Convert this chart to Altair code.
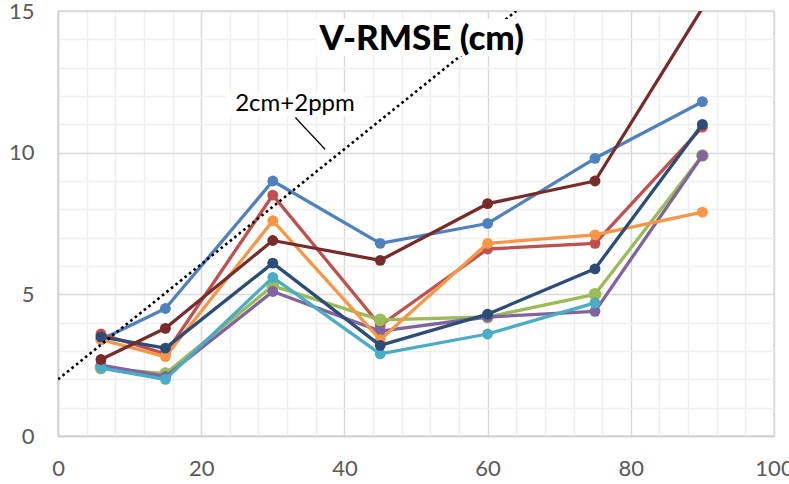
import altair as alt
import pandas as pd

# Baseline length (km) at which each vertical RMSE was evaluated
distance_km = [6, 15, 30, 45, 60, 75, 90]

series_names = ["Series 1", "Series 2", "Series 3", "Series 4",
                "Series 5", "Series 6", "Series 7", "Series 8"]

# Vertical RMSE values in cm, one list per series (None = not measured)
rmse_s1 = [3.4, 4.5, 9.0, 6.8, 7.5, 9.8, 11.8]
rmse_s2 = [3.6, 2.9, 8.5, 3.9, 6.6, 6.8, 10.9]
rmse_s3 = [2.4, 2.2, 5.3, 4.1, 4.2, 5.0, 9.9]
rmse_s4 = [2.5, 2.1, 5.1, 3.7, 4.2, 4.4, 9.9]
rmse_s5 = [2.4, 2.0, 5.6, 2.9, 3.6, 4.7, None]
rmse_s6 = [3.4, 2.8, 7.6, 3.4, 6.8, 7.1, 7.9]
rmse_s7 = [3.5, 3.1, 6.1, 3.2, 4.3, 5.9, 11.0]
rmse_s8 = [2.7, 3.8, 6.9, 6.2, 8.2, 9.0, 15.1]
series_values = [rmse_s1, rmse_s2, rmse_s3, rmse_s4,
                 rmse_s5, rmse_s6, rmse_s7, rmse_s8]

# Specification line "2cm+2ppm"
spec_x = [0, 64]
spec_y = [2.0, 15.0]
spec_label = "2cm+2ppm"
chart_title = "V-RMSE (cm)"

# Styling
series_colors = ["#4F81BD", "#C0504D", "#9BBB59", "#8064A2",
                 "#4BACC6", "#F79646", "#2C4D75", "#772C2A"]
marker_sizes = [118, 118, 160, 118, 118, 118, 118, 118]
FONT = "Lato"
X_MAX, Y_MAX = 100, 15

x_scale = alt.Scale(domain=[0, X_MAX], nice=False, zero=True)
y_scale = alt.Scale(domain=[0, Y_MAX], nice=False, zero=True)

x_axis = alt.Axis(
    values=list(range(0, X_MAX + 1, 4)),
    labelExpr="datum.value % 20 === 0 ? datum.label : ''",
    gridColor={"condition": {"test": "datum.value % 20 === 0", "value": "#d9d9d9"},
               "value": "#efefef"},
    title=None, ticks=False, labelOverlap=False, labelFlush=False,
    labelPadding=22,
)
y_axis = alt.Axis(
    values=list(range(0, Y_MAX + 1)),
    labelExpr="datum.value % 5 === 0 ? datum.label : ''",
    gridColor={"condition": {"test": "datum.value % 5 === 0", "value": "#d9d9d9"},
               "value": "#efefef"},
    title=None, ticks=False, labelOverlap=False, labelFlush=False,
    labelPadding=24,
)


def X(field):
    return alt.X(f"{field}:Q", scale=x_scale, axis=x_axis)


def Y(field):
    return alt.Y(f"{field}:Q", scale=y_scale, axis=y_axis)


rows = []
for name, vals in zip(series_names, series_values):
    for d, v in zip(distance_km, vals):
        if v is not None:
            rows.append({"series": name, "km": d, "rmse": v})
df = pd.DataFrame(rows)

layers = []
for name, color, size in zip(series_names, series_colors, marker_sizes):
    sub = df[df["series"] == name]
    line = alt.Chart(sub).mark_line(
        color=color, strokeWidth=3.3, clip=True, strokeJoin="round"
    ).encode(x=X("km"), y=Y("rmse"))
    pts = alt.Chart(sub).transform_filter(
        f"datum.rmse <= {Y_MAX}"
    ).mark_point(
        filled=True, color=color, size=size, opacity=1, shape="circle"
    ).encode(x=X("km"), y=Y("rmse"))
    layers += [line, pts]

spec_df = pd.DataFrame({"km": spec_x, "rmse": spec_y})
spec_line = alt.Chart(spec_df).mark_line(
    color="black", strokeWidth=2.6, strokeDash=[2.6, 3.2], clip=True
).encode(x=X("km"), y=Y("rmse"))

# White boxes behind the annotations
box_df = pd.DataFrame({
    "x0": [36.0, 23.4], "x1": [66.2, 42.7],
    "y0": [13.4, 11.28], "y1": [14.72, 12.13],
})
boxes = alt.Chart(box_df).mark_rect(color="white").encode(
    x=X("x0"), x2="x1", y=Y("y0"), y2="y1"
)

title_df = pd.DataFrame({"km": [50.8], "rmse": [14.0], "text": [chart_title]})
title = alt.Chart(title_df).mark_text(
    font=FONT, fontSize=35, fontWeight=900, color="black",
    align="center", baseline="middle"
).encode(x=X("km"), y=Y("rmse"), text="text:N")

label_df = pd.DataFrame({"km": [33.1], "rmse": [11.72], "text": [spec_label]})
label = alt.Chart(label_df).mark_text(
    font=FONT, fontSize=24, color="black", align="center", baseline="middle"
).encode(x=X("km"), y=Y("rmse"), text="text:N")

leader_df = pd.DataFrame({"x0": [33.15], "y0": [11.24], "x1": [37.3], "y1": [10.12]})
leader = alt.Chart(leader_df).mark_rule(color="black", strokeWidth=1.2).encode(
    x=X("x0"), y=Y("y0"), x2="x1", y2="y1"
)

chart = alt.layer(*layers, spec_line, boxes, title, label, leader).properties(
    width=716, height=425,
    autosize=alt.AutoSizeParams(type="none"),
    padding={"left": 58, "top": 11, "right": 15, "bottom": 48},
    background="white",
).configure_view(
    stroke="#d9d9d9", strokeWidth=1.5
).configure_axis(
    labelFont=FONT, labelFontSize=22, labelColor="#595959",
    domainColor="#d0d0d0", domainWidth=1.5, gridWidth=1.5,
)

chart.save("out.html", embed_options={"renderer": "svg", "actions": False})
